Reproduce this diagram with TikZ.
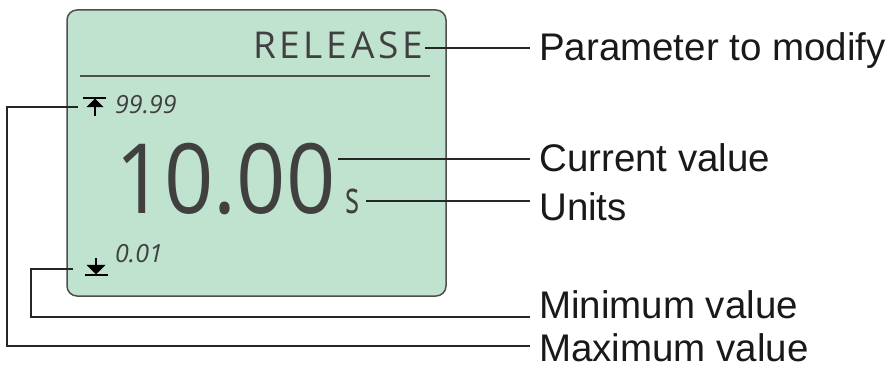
\documentclass[tikz,border=0pt]{standalone}
\usepackage{fontspec}
\setmainfont{Liberation Sans}
\newfontfamily\lcdfont{Open Sans}
\usetikzlibrary{positioning}
\definecolor{lcdgreen}{RGB}{192,227,208}
\definecolor{lcdtext}{RGB}{64,64,64}
\definecolor{framegray}{RGB}{78,78,78}

\begin{document}
\begin{tikzpicture}[
  x=1pt, y=-1pt,
  lcd/.style={inner sep=0pt, text=lcdtext},
  callout/.style={anchor=base west, inner xsep=9pt, inner ysep=0pt, text=black!90, font=\fontsize{38.5}{40}\selectfont},
  leader/.style={draw=black!85, line width=1.2pt},
  mark/.style={fill=black, draw=black, line width=1.5pt}
]
  \useasboundingbox (0,0) rectangle (894,374);

  % display panel
  \draw[framegray, line width=1.5pt, fill=lcdgreen, rounded corners=10pt] (67,10) rectangle (446,296);
  \draw[framegray, line width=1.2pt] (80,76) -- (430,76);

  \node[lcd, anchor=base east, font=\lcdfont\fontsize{37}{38}\selectfont\addfontfeature{LetterSpace=10}] (release) at (423,59) {RELEASE};
  \node[lcd, anchor=base west, font=\lcdfont\fontsize{97}{100}\selectfont] (value) at (115,214) {\scalebox{0.89}[1]{10.00}};
  \node[lcd, anchor=base west, font=\lcdfont\fontsize{45}{46}\selectfont] (unit) at (345,214) {\scalebox{0.66}[1]{s}};
  \node[lcd, anchor=base west, font=\lcdfont\itshape\fontsize{25}{26}\selectfont] (maxnum) at (115,114) {99.99};
  \node[lcd, anchor=base west, font=\lcdfont\itshape\fontsize{25}{26}\selectfont] (minnum) at (115,262) {0.01};

  % limit marks
  \node[inner sep=0pt, minimum width=34pt, minimum height=18pt] (maxmark) at (95,107) {};
  \draw[line width=1.5pt] (83,98) -- (106,98);
  \filldraw[line width=0.5pt] (95,99) -- (87,107) -- (103,107) -- cycle;
  \draw[line width=1.5pt] (95,107) -- (95,116);

  \node[inner sep=0pt, minimum width=46pt, minimum height=18pt] (minmark) at (96,269) {};
  \draw[line width=1.5pt] (96,258) -- (96,266);
  \filldraw[line width=0.5pt] (87,265) -- (105,265) -- (96,274) -- cycle;
  \draw[line width=1.5pt] (85,275) -- (108,275);

  % callouts
  \node[callout] (param) at (530,61) {Parameter to modify};
  \node[callout] (current) at (530,172) {Current value};
  \node[callout] (units) at (530,221) {Units};
  \node[callout] (minimum) at (530,318) {Minimum value};
  \node[callout] (maximum) at (530,361) {Maximum value};

  \coordinate (reltap) at (425,48);
  \coordinate (valtap) at (338,159);
  \coordinate (unittap) at (366,201);
  \coordinate (minfoot) at (31,317);
  \coordinate (maxfoot) at (7,346);

  \draw[leader] (reltap) -- (reltap -| param.west);
  \draw[leader] (valtap) -- (valtap -| current.west);
  \draw[leader] (unittap) -- (unittap -| units.west);
  \draw[leader] (minmark.west) -| (minfoot) -- (minfoot -| minimum.west);
  \draw[leader] (maxmark.west) -| (maxfoot) -- (maxfoot -| maximum.west);
\end{tikzpicture}
\end{document}
